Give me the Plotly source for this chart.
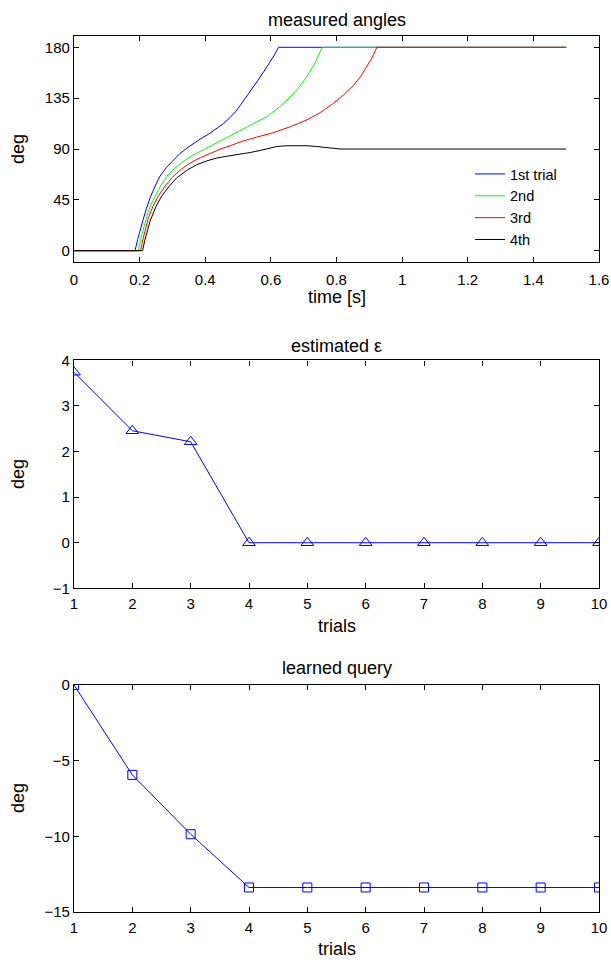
import plotly.graph_objects as go

# ---------------- data ----------------
t_blue = [0, 0.186, 0.194, 0.202, 0.211, 0.221, 0.232, 0.246, 0.262, 0.282, 0.303, 0.323, 0.344,
          0.364, 0.384, 0.41, 0.435, 0.456, 0.476, 0.492, 0.506, 0.532, 0.557, 0.578, 0.598,
          0.611, 0.623, 1.5]
a_blue = [0, 0, 10, 19.5, 27.8, 37.5, 46.9, 56.5, 65.9, 73.8, 80.5, 86, 90.8,
          95, 98.7, 103.1, 107.9, 112.6, 117.9, 122.9, 128.3, 138.6, 149.3, 158.3, 166.8,
          173.3, 180, 180]

t_green = [0, 0.196, 0.204, 0.213, 0.222, 0.234, 0.247, 0.264, 0.283, 0.307, 0.333, 0.358,
           0.384, 0.414, 0.445, 0.475, 0.506, 0.547, 0.587, 0.623, 0.659, 0.685, 0.709,
           0.733, 0.757, 1.5]
a_green = [0, 0, 11, 21.5, 30.7, 40.5, 48.3, 57.5, 65.9, 72.9, 79, 83.8,
           87.8, 92.3, 96.6, 101.2, 106.2, 112, 118.5, 126.5, 136, 144.5, 153.6,
           165.5, 180, 180]

t_red = [0, 0.203, 0.211, 0.219, 0.227, 0.241, 0.257, 0.279, 0.303, 0.328, 0.354, 0.385,
         0.415, 0.445, 0.476, 0.506, 0.557, 0.608, 0.659, 0.709, 0.75, 0.79, 0.822, 0.852,
         0.873, 0.892, 0.908, 0.923, 1.5]
a_red = [0, 0, 11, 21, 29.3, 39.5, 48.3, 57.8, 65.9, 72.3, 77.6, 82.3,
         86.4, 89.8, 92.8, 96.2, 100.5, 104.5, 109.7, 115.6, 122.2, 130.3, 138, 146.4,
         154, 162.4, 170.5, 180, 180]

t_black = [0, 0.209, 0.216, 0.224, 0.232, 0.249, 0.267, 0.29, 0.313, 0.343, 0.374, 0.405,
           0.435, 0.47, 0.506, 0.537, 0.567, 0.593, 0.618, 0.649, 0.679, 0.71, 0.74, 0.775,
           0.811, 1.5]
a_black = [0, 0, 9.5, 18.5, 26.3, 38.5, 48.3, 57, 64.4, 71, 76.1, 79.5,
           82, 83.8, 85.3, 86.9, 88.7, 90.5, 92.2, 92.9, 93.1, 92.9, 92.2, 91,
           90, 90]

trial_names = ["1st trial", "2nd", "3rd", "4th"]
trial_colors = ["#0000ff", "#00ff00", "#ff0000", "#000000"]

trials = [1, 2, 3, 4, 5, 6, 7, 8, 9, 10]
eps_est = [3.74, 2.456, 2.215, 0, 0, 0, 0, 0, 0, 0]
query = [0, -5.94, -9.86, -13.38, -13.38, -13.38, -13.38, -13.38, -13.38, -13.38]

top_yticks = [0, 45, 90, 135, 180]
top_xticks = [0, 0.2, 0.4, 0.6, 0.8, 1.0, 1.2, 1.4, 1.6]
top_xticklabels = ["0", "0.2", "0.4", "0.6", "0.8", "1", "1.2", "1.4", "1.6"]
mid_yticks = [-1, 0, 1, 2, 3, 4]
bot_yticks = [-15, -10, -5, 0]

# ---------------- figure ----------------
W, H = 611, 960
ML, MR, MT, MB = 74, 12, 36, 48
PH = H - MT - MB
FONT = "Liberation Sans, Arial, Helvetica, sans-serif"


def py(pix):
    return (H - MB - pix) / PH


def px(pix):
    return (pix - ML) / (W - ML - MR)


fig = go.Figure()
for tt, aa, name, col in zip([t_blue, t_green, t_red, t_black],
                             [a_blue, a_green, a_red, a_black],
                             trial_names, trial_colors):
    fig.add_trace(go.Scatter(x=tt, y=aa, mode="lines", name=name,
                             line=dict(color=col, width=1),
                             xaxis="x", yaxis="y"))

fig.add_trace(go.Scatter(x=trials, y=eps_est, mode="lines+markers", showlegend=False,
                         line=dict(color="#0000ff", width=1),
                         marker=dict(symbol="triangle-up-open", size=11,
                                     color="#0000ff", line=dict(width=1, color="#0000ff")),
                         xaxis="x2", yaxis="y2"))
fig.add_trace(go.Scatter(x=trials, y=query, mode="lines+markers", showlegend=False,
                         line=dict(color="#0000ff", width=1),
                         marker=dict(symbol="square-open", size=9,
                                     color="#0000ff", line=dict(width=1, color="#0000ff")),
                         xaxis="x3", yaxis="y3"))

axis_common = dict(showline=True, mirror="ticks", linecolor="black", linewidth=1.2,
                   ticks="inside", ticklen=5, tickwidth=1, tickcolor="black",
                   showgrid=False, zeroline=False, automargin=False,
                   tickfont=dict(family=FONT, size=15, color="black"))

fig.update_layout(
    width=W, height=H, autosize=False,
    margin=dict(l=ML, r=MR, t=MT, b=MB, autoexpand=False),
    paper_bgcolor="white", plot_bgcolor="white",
    font=dict(family=FONT, size=15, color="black"),
    xaxis=dict(domain=[0, 1], range=[0, 1.6], tickvals=top_xticks, ticktext=top_xticklabels,
               anchor="y", ticklabelstandoff=4, **axis_common),
    yaxis=dict(domain=[py(262), 1.0], range=[-10, 190], tickvals=top_yticks,
               anchor="x", **axis_common),
    xaxis2=dict(domain=[0, 1], range=[1, 10], tickvals=trials, anchor="y2",
                ticklabelstandoff=2, **axis_common),
    yaxis2=dict(domain=[py(588.3), py(360.4)], range=[-1, 4], tickvals=mid_yticks,
                anchor="x2", **axis_common),
    xaxis3=dict(domain=[0, 1], range=[1, 10], tickvals=trials, anchor="y3",
                ticklabelstandoff=2, **axis_common),
    yaxis3=dict(domain=[0, py(685)], range=[-15, 0], tickvals=bot_yticks,
                anchor="x3", **axis_common),
    legend=dict(x=px(470), y=py(158), xanchor="left", yanchor="top",
                bgcolor="rgba(0,0,0,0)", borderwidth=0,
                font=dict(family=FONT, size=14.5, color="black"),
                tracegroupgap=0),
    showlegend=True,
)

TF = dict(family=FONT, size=18, color="black")
annos = [
    ("measured angles", 0.5, py(20), 0),
    ("time [s]", 0.5, py(297), 0),
    ("estimated ε", 0.5, py(346), 0),
    ("trials", 0.5, py(626), 0),
    ("learned query", 0.5, py(668), 0),
    ("trials", 0.5, py(949), 0),
    ("deg", px(18), py(149), -90),
    ("deg", px(18), py(474), -90),
    ("deg", px(18), py(798), -90),
]
for text, x, y, ang in annos:
    fig.add_annotation(text=text, x=x, y=y, xref="paper", yref="paper",
                       xanchor="center", yanchor="middle", showarrow=False,
                       textangle=ang, font=TF)

fig.write_html("out.html",
               config={"displayModeBar": False, "responsive": False},
               post_script="document.body.style.margin='0';document.body.style.overflow='hidden';")
